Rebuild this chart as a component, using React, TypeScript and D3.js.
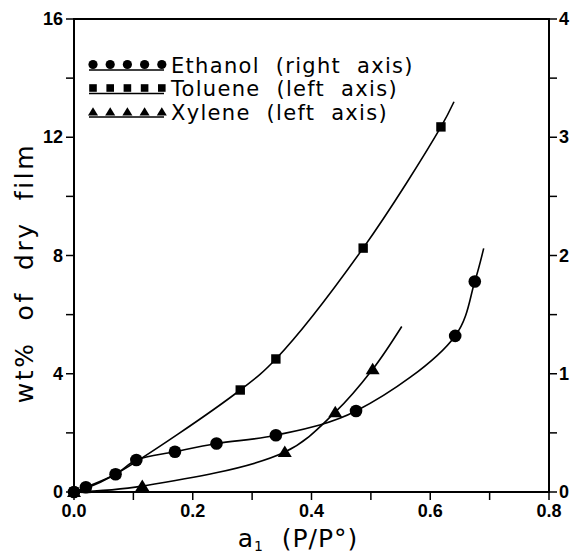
import React from 'react';
import * as d3 from 'd3';

// activity a1 (P/P°) vs uptake
const ethanolX = [0, 0.02, 0.07, 0.105, 0.17, 0.24, 0.34, 0.475, 0.642, 0.675];
const ethanolY = [0, 0.04, 0.15, 0.27, 0.34, 0.41, 0.48, 0.685, 1.32, 1.78]; // right axis
const tolueneX = [0, 0.02, 0.07, 0.28, 0.34, 0.487, 0.618];
const tolueneY = [0, 0.12, 0.6, 3.45, 4.5, 8.25, 12.35]; // left axis
const xyleneX = [0, 0.115, 0.355, 0.44, 0.503];
const xyleneY = [0, 0.2, 1.35, 2.7, 4.15]; // left axis

// where the fitted curves stop, past the last point
const ethanolEnd = [0.69, 2.06];
const tolueneEnd = [0.64, 13.2];
const xyleneEnd = [0.552, 5.6];

const xTicks = [0, 0.1, 0.2, 0.3, 0.4, 0.5, 0.6, 0.7, 0.8];
const xLabels = [0, 0.2, 0.4, 0.6, 0.8];
const leftTicks = [0, 2, 4, 6, 8, 10, 12, 14, 16];
const leftLabels = [0, 4, 8, 12, 16];
const rightTicks = [0, 0.5, 1, 1.5, 2, 2.5, 3, 3.5, 4];
const rightLabels = [0, 1, 2, 3, 4];

const legendNames = ['Ethanol  (right  axis)', 'Toluene  (left  axis)', 'Xylene  (left  axis)'];

const W = 574;
const H = 554;
const m = { left: 74, right: 25, top: 19, bottom: 62 };

export default function App() {
  const x = d3.scaleLinear().domain([0, 0.8]).range([m.left, W - m.right]);
  const yL = d3.scaleLinear().domain([0, 16]).range([H - m.bottom, m.top]);
  const yR = d3.scaleLinear().domain([0, 4]).range([H - m.bottom, m.top]);

  const zip = (xs: number[], ys: number[]) => xs.map((v, i) => [v, ys[i]] as [number, number]);
  const eth = zip(ethanolX, ethanolY);
  const tol = zip(tolueneX, tolueneY);
  const xyl = zip(xyleneX, xyleneY);

  const lineL = d3.line<[number, number]>()
    .x(d => x(d[0]))
    .y(d => yL(d[1]))
    .curve(d3.curveCatmullRom.alpha(0.5));
  const lineR = d3.line<[number, number]>()
    .x(d => x(d[0]))
    .y(d => yR(d[1]))
    .curve(d3.curveCatmullRom.alpha(0.5));

  const y0 = H - m.bottom;
  const tk = 8;
  const tickFont = { fontFamily: 'Liberation Sans, Arial, sans-serif', fontWeight: 700, fontSize: 18 };
  const textFont = 'DejaVu Sans, Liberation Sans, sans-serif';
  const pre = { whiteSpace: 'pre' } as React.CSSProperties;

  const circle = (cx: number, cy: number, k: string, r = 6.3) => <circle key={k} cx={cx} cy={cy} r={r} fill="#000" />;
  const square = (cx: number, cy: number, k: string, s = 4.7) => (
    <rect key={k} x={cx - s} y={cy - s} width={2 * s} height={2 * s} fill="#000" />
  );
  const tri = (cx: number, cy: number, k: string, s = 1) => (
    <path key={k} d={`M${cx},${cy - 6.5 * s}L${cx + 7 * s},${cy + 5 * s}L${cx - 7 * s},${cy + 5 * s}Z`} fill="#000" />
  );

  const legendMarks = [
    (cx: number, cy: number, k: string) => circle(cx, cy, k, 4.6),
    (cx: number, cy: number, k: string) => square(cx, cy, k, 3.8),
    (cx: number, cy: number, k: string) => tri(cx, cy + 0.5, k, 0.72),
  ];

  return (
    <svg width={W} height={H} style={{ position: 'absolute', left: 0, top: 0, background: '#fff' }}>
      {/* frame */}
      <rect x={m.left} y={m.top} width={x(0.8) - m.left} height={y0 - m.top} fill="none" stroke="#000" strokeWidth={2} />

      {/* bottom ticks */}
      {xTicks.map(t => (
        <line key={'xt' + t} x1={x(t)} x2={x(t)} y1={y0} y2={y0 + tk} stroke="#000" strokeWidth={1.5} />
      ))}
      {xLabels.map(t => (
        <text key={'xl' + t} x={x(t)} y={y0 + 25} textAnchor="middle" {...tickFont}>
          {d3.format('.1f')(t)}
        </text>
      ))}

      {/* left ticks */}
      {leftTicks.map(t => (
        <line key={'lt' + t} x1={m.left - tk} x2={m.left} y1={yL(t)} y2={yL(t)} stroke="#000" strokeWidth={1.5} />
      ))}
      {leftLabels.map(t => (
        <text key={'ll' + t} x={m.left - 11} y={yL(t) + 6} textAnchor="end" {...tickFont}>
          {t}
        </text>
      ))}

      {/* right ticks */}
      {rightTicks.map(t => (
        <line key={'rt' + t} x1={x(0.8)} x2={x(0.8) + tk} y1={yR(t)} y2={yR(t)} stroke="#000" strokeWidth={1.5} />
      ))}
      {rightLabels.map(t => (
        <text key={'rl' + t} x={x(0.8) + 10} y={yR(t) + 6} textAnchor="start" {...tickFont}>
          {t}
        </text>
      ))}

      {/* axis titles */}
      <text
        transform={`translate(33,273) rotate(-90)`}
        textAnchor="middle"
        fontFamily={textFont}
        fontSize={25}
        letterSpacing={2.6}
        style={pre}
      >
        {'wt%  of  dry  film'}
      </text>
      <text x={298} y={547} textAnchor="middle" fontFamily={textFont} fontSize={25} letterSpacing={1} style={pre}>
        a<tspan fontSize={14} dy={4}>1</tspan>
        <tspan dy={-4}>{'  (P/P°)'}</tspan>
      </text>

      {/* fitted curves */}
      <path d={lineR([...eth, ethanolEnd as [number, number]]) || ''} fill="none" stroke="#000" strokeWidth={1.6} />
      <path d={lineL([...tol, tolueneEnd as [number, number]]) || ''} fill="none" stroke="#000" strokeWidth={1.6} />
      <path d={lineL([...xyl, xyleneEnd as [number, number]]) || ''} fill="none" stroke="#000" strokeWidth={1.6} />

      {/* markers */}
      {tol.map((d, i) => square(x(d[0]), yL(d[1]), 't' + i))}
      {xyl.map((d, i) => tri(x(d[0]), yL(d[1]), 'x' + i))}
      {eth.map((d, i) => circle(x(d[0]), yR(d[1]), 'e' + i))}

      {/* legend */}
      {legendNames.map((name, i) => {
        const cy = 65 + i * 23.5;
        return (
          <g key={name}>
            <line x1={89} x2={164} y1={cy + 5} y2={cy + 5} stroke="#000" strokeWidth={1.5} />
            {d3.range(5).map(j => legendMarks[i](93 + j * 17.2, cy - 0.5, name + j))}
            <text x={171} y={cy + 7.5} fontFamily={textFont} fontSize={21} letterSpacing={1.3} style={pre}>
              {name}
            </text>
          </g>
        );
      })}
    </svg>
  );
}
